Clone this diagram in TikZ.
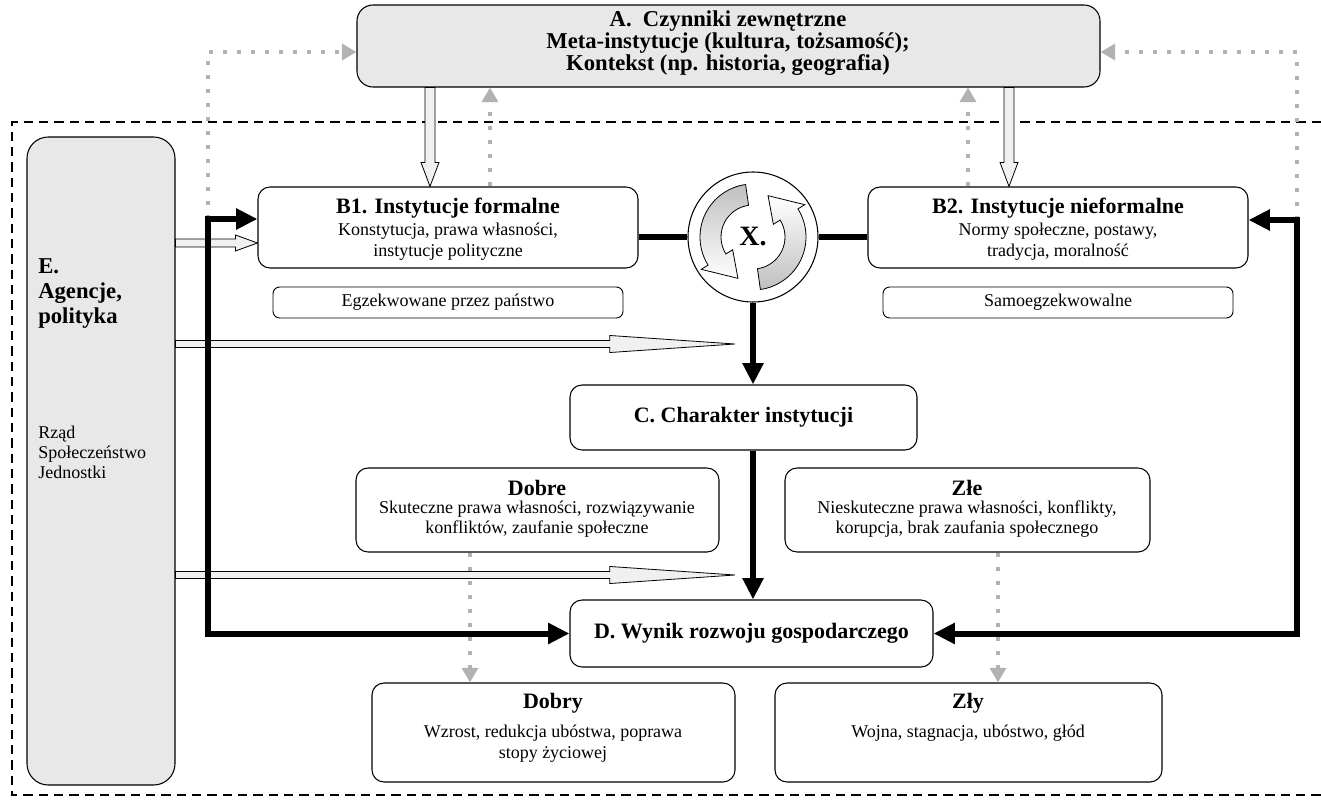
\documentclass[tikz,border=0pt]{standalone}
\usepackage{fontspec}
\setmainfont{Liberation Serif}
\usetikzlibrary{arrows.meta,calc,fit}

% hollow block arrows: start, tip, half shaft, head length, half head (in pt)
\newcommand\hollowright[5]{%
  \filldraw[hollow] let \p1=(#1), \p2=(#2) in
    (\x1,\y1+#3) -- (\x2-#4,\y1+#3) -- (\x2-#4,\y1+#5) -- (\x2,\y1)
    -- (\x2-#4,\y1-#5) -- (\x2-#4,\y1-#3) -- (\x1,\y1-#3) -- cycle;}
\newcommand\hollowdown[5]{%
  \filldraw[hollow] let \p1=(#1), \p2=(#2) in
    (\x1-#3,\y1) -- (\x1-#3,\y2+#4) -- (\x1-#5,\y2+#4) -- (\x1,\y2)
    -- (\x1+#5,\y2+#4) -- (\x1+#3,\y2+#4) -- (\x1+#3,\y1) -- cycle;}

\begin{document}
\begin{tikzpicture}[x=0.75pt,y=-0.75pt,
  box/.style={draw=black, line width=0.8pt, rounded corners=9pt, fill=white, inner sep=0pt},
  graybox/.style={box, fill=gray!18},
  smallbox/.style={draw=black, line width=0.7pt, rounded corners=5pt, fill=white, inner sep=0pt},
  ttl/.style={font=\bfseries\fontsize{16.5}{19}\selectfont, align=center, inner sep=0pt},
  bigttl/.style={font=\bfseries\fontsize{16.5}{19}\selectfont, align=center, inner sep=0pt},
  body/.style={font=\fontsize{13.5}{15.5}\selectfont, align=center, inner sep=0pt},
  frame/.style={line width=1.1pt, dash pattern=on 7pt off 4.5pt},
  hollow/.style={fill=gray!12, draw=black, line width=0.6pt},
  gtip/.tip={Triangle[length=11pt, width=12pt]},
  dotl/.style={draw=gray!60, line width=3pt, dash pattern=on 3pt off 7.5pt},
  btip/.tip={Triangle[length=16pt, width=15pt]},
  blk/.style={line width=4.5pt},
]
\useasboundingbox (0,0) rectangle (1321,803);

% outer dashed frame (open on the right)
\draw[frame] (1321,122) -- (12,122) -- (12,795) -- (1321,795);

% boxes
\node[graybox, rounded corners=12pt, fit={(357,5) (1100,87)}] (A) {};
\node[graybox, rounded corners=16pt, fit={(27,137) (175,785)}] (E) {};
\node[box, fit={(258,187) (638,268)}] (B1) {};
\node[box, fit={(868,187) (1248,268)}] (B2) {};
\node[smallbox, fit={(273,287) (623,318)}] (Eg) {};
\node[smallbox, fit={(883,287) (1233,318)}] (Sa) {};
\node[box, fit={(570,385) (917,450)}] (C) {};
\node[box, fit={(356,468) (719,552)}] (Dobre) {};
\node[box, fit={(785,468) (1150,552)}] (Zle) {};
\node[box, fit={(570,600) (933,667)}] (D) {};
\node[box, fit={(372,683) (735,782)}] (Dobry) {};
\node[box, fit={(775,683) (1162,782)}] (Zly) {};
\node[circle, draw=black, line width=0.8pt, fill=white, minimum size=97.5pt, inner sep=0pt] (X) at (753,237) {};

% texts
\node[ttl, font=\bfseries\fontsize{17}{15}\selectfont] (At) at (728,43)
  {A.\ \ Czynniki zewnętrzne\\ Meta-instytucje (kultura, tożsamość);\\ Kontekst (np. historia, geografia)};
\node[ttl, align=left, anchor=north west, font=\bfseries\fontsize{17}{18.75}\selectfont] (Et) at (38,258)
  {E.\\ Agencje,\\ polityka};
\node[body, align=left, anchor=north west, font=\fontsize{13.5}{15}\selectfont] (Eb) at (38,426)
  {Rząd\\ Społeczeństwo\\ Jednostki};
\node[ttl] (B1t) at (448,208) {B1. Instytucje formalne};
\node[body] (B1b) at (448,242) {Konstytucja, prawa własności,\\ instytucje polityczne};
\node[ttl] (B2t) at (1058,208) {B2. Instytucje nieformalne};
\node[body] (B2b) at (1058,242) {Normy społeczne, postawy,\\ tradycja, moralność};
\node[body] (Egt) at (Eg) {Egzekwowane przez państwo};
\node[body] (Sat) at (Sa) {Samoegzekwowalne};
\node[bigttl] (Ct) at (C) {C. Charakter instytucji};
\node[ttl] (Dobret) at (537,488) {Dobre};
\node[body] (Dobreb) at (537,519) {Skuteczne prawa własności, rozwiązywanie\\ konfliktów, zaufanie społeczne};
\node[ttl] (Zlet) at (967,488) {Złe};
\node[body] (Zleb) at (967,519) {Nieskuteczne prawa własności, konflikty,\\ korupcja, brak zaufania społecznego};
\node[bigttl] (Dt) at (D) {D. Wynik rozwoju gospodarczego};
\node[ttl] (Dobryt) at (553,703) {Dobry};
\node[body] (Dobryb) at (553,744) {Wzrost, redukcja ubóstwa, poprawa\\ stopy życiowej};
\node[ttl] (Zlyt) at (968,703) {Zły};
\node[body] (Zlyb) at (968,733) {Wojna, stagnacja, ubóstwo, głód};

% rotating arrows inside X
\begin{scope}[shift={(X.center)}, x=0.75pt, y=0.75pt]
  \shadedraw[top color=gray!50, bottom color=white, draw=black, line width=0.6pt]
    (98:53) arc[start angle=98, end angle=212, radius=53] -- (212:61) -- (250:44)
    -- (212:24) -- (212:32) arc[start angle=212, end angle=98, radius=32] -- cycle;
  \shadedraw[bottom color=gray!50, top color=white, draw=black, line width=0.6pt]
    (278:53) arc[start angle=278, end angle=392, radius=53] -- (32:61) -- (70:44)
    -- (32:24) -- (32:32) arc[start angle=392, end angle=278, radius=32] -- cycle;
\end{scope}
\node[font=\bfseries\fontsize{21}{21}\selectfont, inner sep=0pt] (Xt) at (X.center) {X.};

% coordinates of the connectors
\coordinate (L1) at (208,219);
\coordinate (L2) at (L1 |- D.west);
\coordinate (Lt) at (208,52);
\coordinate (R1) at (1297,220);
\coordinate (R2) at (R1 |- D.east);
\coordinate (Rt) at (1297,52);
\coordinate (h1) at (E.east |- 0,243);
\coordinate (h2) at (E.east |- 0,344);
\coordinate (h2t) at (735,344);
\coordinate (h3) at (E.east |- 0,575);
\coordinate (h3t) at (735,575);

% gray dotted feedback arrows
\draw[dotl, -{gtip[gray!60]}] (L1) -- (Lt) -- (A.west |- Lt);
\draw[dotl, -{gtip[gray!60]}] (R1) -- (Rt) -- (A.east |- Rt);
\draw[dotl, -{gtip[gray!60]}] (B1.north -| 490,0) -- (A.south -| 490,0);
\draw[dotl, -{gtip[gray!60]}] (B2.north -| 968,0) -- (A.south -| 968,0);
\draw[dotl, -{gtip[gray!60]}] (Dobre.south -| 470,0) -- (Dobry.north -| 470,0);
\draw[dotl, -{gtip[gray!60]}] (Zle.south -| 998,0) -- (Zly.north -| 998,0);

% hollow arrows
\hollowdown{A.south -| 430,0}{B1.north -| 430,0}{3.75pt}{18pt}{6.75pt}
\hollowdown{A.south -| 1009,0}{B2.north -| 1009,0}{3.75pt}{18pt}{6.75pt}
\hollowright{h1}{B1.west |- h1}{3pt}{16.5pt}{6pt}
\hollowright{h2}{h2t}{2.6pt}{94pt}{6.4pt}
\hollowright{h3}{h3t}{2.6pt}{94pt}{6.4pt}

% black connectors
\draw[blk] (B1.east |- X.center) -- (X.west);
\draw[blk] (X.east) -- (B2.west |- X.center);
\draw[blk, -{btip}] (X.south) -- (C.north -| X.south);
\draw[blk, -{btip}] (C.south -| X.south) -- (D.north -| X.south);
\draw[blk, {btip}-{btip}] (B1.west |- L1) -- (L1) -- (L2) -- (D.west);
\draw[blk, {btip}-{btip}] (B2.east |- R1) -- (R1) -- (R2) -- (D.east);
\end{tikzpicture}
\end{document}
